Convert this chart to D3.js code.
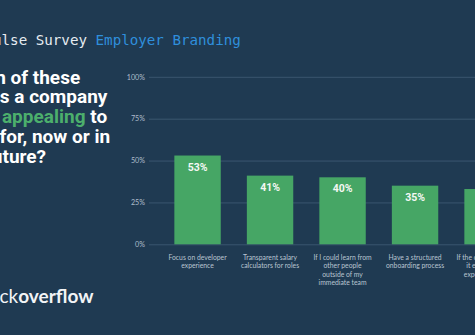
<!DOCTYPE html>
<html><head><meta charset="utf-8">
<script src="https://cdn.jsdelivr.net/npm/d3@7"></script>
<style>
html,body{margin:0;padding:0;background:#1f3a52;overflow:hidden;}
svg{display:block;}
</style></head>
<body>
<svg id="c" width="475" height="335"></svg>
<script>
const categories = [
  "Focus on developer experience",
  "Transparent salary calculators for roles",
  "If I could learn from other people outside of my immediate team",
  "Have a structured onboarding process",
  "If the company made it easier to get experience"
];
const categoryLines = [
  ["Focus on developer", "experience"],
  ["Transparent salary", "calculators for roles"],
  ["If I could learn from", "other people", "outside of my", "immediate team"],
  ["Have a structured", "onboarding process"],
  ["If the company made", "it easier to get", "experience with"]
];
const values = [53, 41, 40, 35, 33];
const yTicks = [0, 25, 50, 75, 100];
const questionLines = [
  [["Which of these", "#fff"]],
  [["makes a company", "#fff"]],
  [["more ", "#fff"], ["appealing", "#4caf6c"], [" to", "#fff"]],
  [["work for, now or in", "#fff"]],
  [["the future?", "#fff"]]
];

const svg = d3.select("#c");
const W = 475, H = 335;
svg.append("rect").attr("width", W).attr("height", H).attr("fill", "#1f3a52");

// header
const hdr = svg.append("text").attr("x", -15.5).attr("y", 44.5)
  .attr("font-family", "DejaVu Sans Mono, monospace").attr("font-size", 14.2);
hdr.append("tspan").attr("fill", "#e6ecf1").text("Pulse Survey ");
hdr.append("tspan").attr("fill", "#2f8fdc").text("Employer Branding");

// question
questionLines.forEach((parts, i) => {
  const t = svg.append("text").attr("x", -47).attr("y", 83.5 + i * 19.8)
    .attr("font-family", "Roboto, sans-serif").attr("font-weight", 700)
    .attr("font-size", 19);
  parts.forEach(p => t.append("tspan").attr("fill", p[1]).text(p[0]));
});

// logo text
const logo = svg.append("text").attr("x", -25).attr("y", 303)
  .attr("font-family", "Lato, sans-serif").attr("font-size", 19).attr("fill", "#f2f4f6");
logo.append("tspan").attr("font-weight", 400).text("stack");
logo.append("tspan").attr("font-weight", 700).text("overflow");

// chart
const y = d3.scaleLinear().domain([0, 100]).range([244.3, 76.8]);
const x = d3.scaleBand().domain(categories).range([161.3, 523.8])
  .paddingInner(0.36).paddingOuter(0.18);

const yAxis = d3.axisLeft(y).tickValues(yTicks).tickFormat(d => d + "%")
  .tickSize(-(W - 149)).tickPadding(4);
const ga = svg.append("g").attr("transform", "translate(149,0)").call(yAxis);
ga.select(".domain").remove();
ga.selectAll(".tick line").attr("stroke", "#3a566f").attr("stroke-width", 1);
ga.selectAll(".tick text").attr("fill", "#aebccb")
  .attr("font-family", "Lato, sans-serif").attr("font-size", 7.2);

svg.append("g").selectAll("rect").data(values).join("rect")
  .attr("x", (d, i) => x(categories[i]))
  .attr("width", x.bandwidth())
  .attr("y", d => y(d))
  .attr("height", d => y(0) - y(d))
  .attr("fill", "#46a665");

svg.append("g").selectAll("text").data(values).join("text")
  .attr("x", (d, i) => x(categories[i]) + x.bandwidth() / 2)
  .attr("y", d => y(d) + 15)
  .attr("text-anchor", "middle")
  .attr("font-family", "Roboto, sans-serif").attr("font-weight", 700)
  .attr("font-size", 10.5).attr("fill", "#f4f8f4")
  .text(d => d + "%");

categoryLines.forEach((lines, i) => {
  const t = svg.append("text")
    .attr("text-anchor", "middle")
    .attr("font-family", "Lato, sans-serif").attr("font-size", 6.8)
    .attr("fill", "#b9c5d1");
  lines.forEach((ln, j) => t.append("tspan")
    .attr("x", x(categories[i]) + x.bandwidth() / 2)
    .attr("y", 259.6 + j * 8.6).text(ln));
});
</script>
</body></html>
